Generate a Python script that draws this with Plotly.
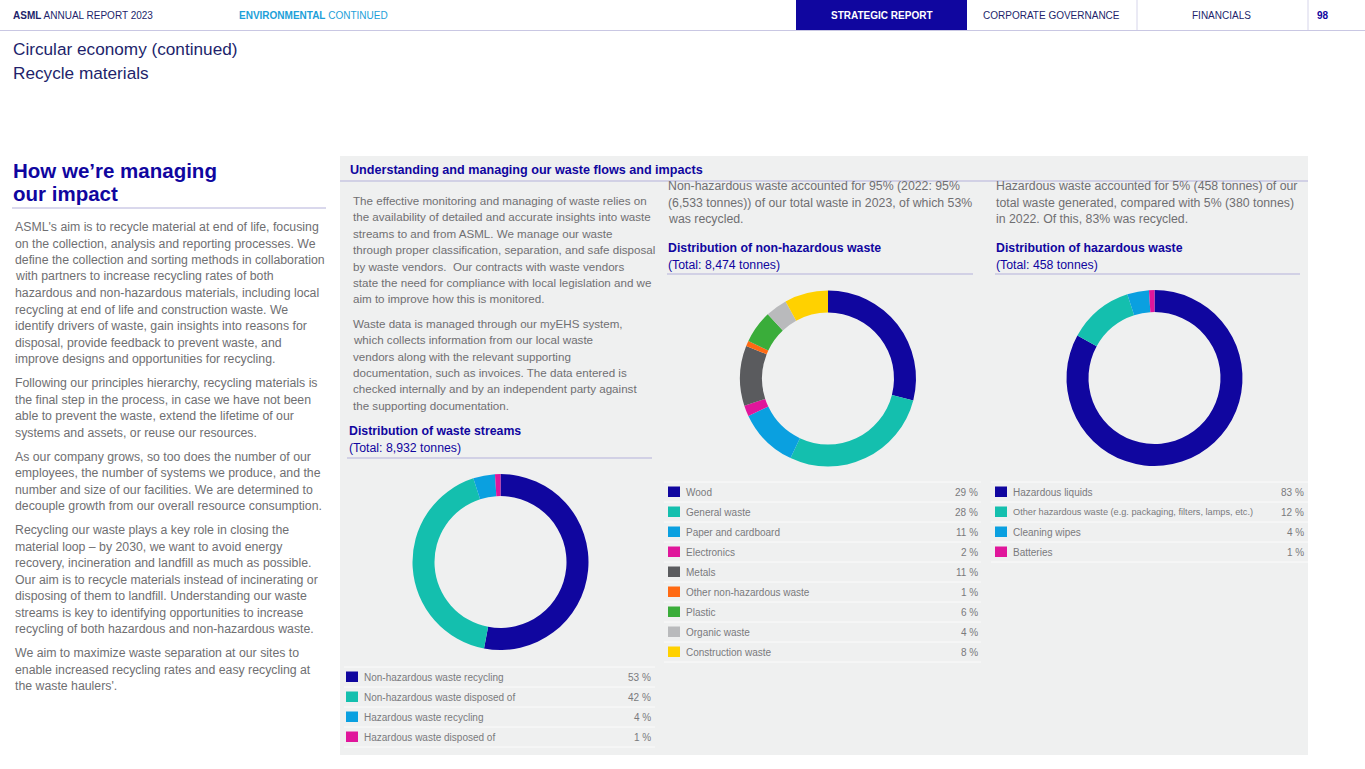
import plotly.graph_objects as go

W, H = 1365, 769

# ---------------- data ----------------
streams_labels = ["Non-hazardous waste recycling", "Non-hazardous waste disposed of",
                  "Hazardous waste recycling", "Hazardous waste disposed of"]
streams_values = [53, 42, 4, 1]
streams_colors = ["#10069f", "#14bfae", "#0aa0e0", "#e0169b"]

nonhaz_labels = ["Wood", "General waste", "Paper and cardboard", "Electronics", "Metals",
                 "Other non-hazardous waste", "Plastic", "Organic waste", "Construction waste"]
nonhaz_values = [29, 28, 11, 2, 11, 1, 6, 4, 8]
nonhaz_colors = ["#10069f", "#14bfae", "#0aa0e0", "#e0169b", "#5a5b5e",
                 "#ff6a13", "#3aad3a", "#b9babc", "#ffd100"]

haz_labels = ["Hazardous liquids", "Other hazardous waste (e.g. packaging, filters, lamps, etc.)",
              "Cleaning wipes", "Batteries"]
haz_values = [83, 12, 4, 1]
haz_colors = ["#10069f", "#14bfae", "#0aa0e0", "#e0169b"]

# ---------------- text ----------------
left_paras = [
    ["ASML's aim is to recycle material at end of life, focusing",
     "on the collection, analysis and reporting processes. We",
     "define the collection and sorting methods in collaboration",
     "with partners to increase recycling rates of both",
     "hazardous and non-hazardous materials, including local",
     "recycling at end of life and construction waste. We",
     "identify drivers of waste, gain insights into reasons for",
     "disposal, provide feedback to prevent waste, and",
     "improve designs and opportunities for recycling."],
    ["Following our principles hierarchy, recycling materials is",
     "the final step in the process, in case we have not been",
     "able to prevent the waste, extend the lifetime of our",
     "systems and assets, or reuse our resources."],
    ["As our company grows, so too does the number of our",
     "employees, the number of systems we produce, and the",
     "number and size of our facilities. We are determined to",
     "decouple growth from our overall resource consumption."],
    ["Recycling our waste plays a key role in closing the",
     "material loop – by 2030, we want to avoid energy",
     "recovery, incineration and landfill as much as possible.",
     "Our aim is to recycle materials instead of incinerating or",
     "disposing of them to landfill. Understanding our waste",
     "streams is key to identifying opportunities to increase",
     "recycling of both hazardous and non-hazardous waste."],
    ["We aim to maximize waste separation at our sites to",
     "enable increased recycling rates and easy recycling at",
     "the waste haulers'."],
]
col1_paras = [
    ["The effective monitoring and managing of waste relies on",
     "the availability of detailed and accurate insights into waste",
     "streams to and from ASML. We manage our waste",
     "through proper classification, separation, and safe disposal",
     "by waste vendors.  Our contracts with waste vendors",
     "state the need for compliance with local legislation and we",
     "aim to improve how this is monitored."],
    ["Waste data is managed through our myEHS system,",
     "which collects information from our local waste",
     "vendors along with the relevant supporting",
     "documentation, such as invoices. The data entered is",
     "checked internally and by an independent party against",
     "the supporting documentation."],
]
col2_paras = [["Non-hazardous waste accounted for 95% (2022: 95%",
               "(6,533 tonnes)) of our total waste in 2023, of which 53%",
               "was recycled."]]
col3_paras = [["Hazardous waste accounted for 5% (458 tonnes) of our",
               "total waste generated, compared with 5% (380 tonnes)",
               "in 2022. Of this, 83% was recycled."]]

FONT = "Liberation Sans"
NAVY = "#10069f"
DARKNAVY = "#221f6b"
GREY = "#6f6f72"
LAV = "#b4b1da"
PANEL = "#eff0f0"


def px(x):
    return x / W


def py(y):
    return 1 - y / H


fig = go.Figure()
shapes = []
annots = []


def text(x, y, s, size=12.3, color=GREY, anchor="left", family=FONT):
    annots.append(dict(x=px(x), y=py(y), xref="paper", yref="paper", text=s,
                       showarrow=False, xanchor=anchor, yanchor="middle",
                       font=dict(family=family, size=size, color=color),
                       borderpad=0))


def hline(x0, x1, y, color=LAV, width=1):
    shapes.append(dict(type="line", xref="paper", yref="paper", x0=px(x0), x1=px(x1),
                       y0=py(y), y1=py(y), line=dict(color=color, width=width)))


def rect(x0, y0, x1, y1, color):
    shapes.append(dict(type="rect", xref="paper", yref="paper", x0=px(x0), x1=px(x1),
                       y0=py(y0), y1=py(y1), fillcolor=color, line=dict(width=0),
                       layer="below"))


def paras(x, y0, ps, lh=16.5, gap=24, size=12.3):
    y = y0
    for p in ps:
        for i, ln in enumerate(p):
            text(x, y, ln, size=size)
            if i < len(p) - 1:
                y += lh
        y += gap
    return y


# ---------------- header ----------------
hline(0, W, 30.5, color="#c9c7e3")
rect(796, 0, 967, 30, NAVY)
for xs in (1137, 1308):
    shapes.append(dict(type="line", xref="paper", yref="paper", x0=px(xs), x1=px(xs),
                       y0=py(0), y1=py(30), line=dict(color="#d6d5ea", width=1)))
text(12, 16, "<b>ASML</b> ANNUAL REPORT 2023", size=10, color=DARKNAVY)
text(238, 16, "<b>ENVIRONMENTAL</b> CONTINUED", size=10, color="#1d9fd9")
text(881, 16, "<b>STRATEGIC REPORT</b>", size=10, color="white", anchor="center")
text(1051, 16, "CORPORATE GOVERNANCE", size=10, color=DARKNAVY, anchor="center")
text(1221, 16, "FINANCIALS", size=10, color=DARKNAVY, anchor="center")
text(1316, 16, "<b>98</b>", size=10, color=NAVY, anchor="left")

text(12, 49, "Circular economy (continued)", size=17.2, color=DARKNAVY)
text(12, 73, "Recycle materials", size=17.2, color=DARKNAVY)

# ---------------- left column ----------------
text(12, 170, "<b>How we’re managing</b>", size=20.5, color=NAVY)
text(12, 194, "<b>our impact</b>", size=20.5, color=NAVY)
hline(12, 326, 208)
paras(14, 227, left_paras)

# ---------------- panel ----------------
rect(340, 156, 1308, 755, PANEL)
text(349, 170, "<b>Understanding and managing our waste flows and impacts</b>", size=12.6, color=NAVY)
hline(340, 1308, 181)

paras(352, 200, col1_paras, size=11.6)
text(348, 431, "<b>Distribution of waste streams</b>", size=12.3, color=NAVY)
text(348, 448, "(Total: 8,932 tonnes)", size=12.3, color=NAVY)
hline(347, 652, 458)

paras(667, 186, col2_paras)
text(667, 248, "<b>Distribution of non-hazardous waste</b>", size=12.3, color=NAVY)
text(667, 265, "(Total: 8,474 tonnes)", size=12.3, color=NAVY)
hline(667, 973, 274)

paras(995, 186, col3_paras)
text(995, 248, "<b>Distribution of hazardous waste</b>", size=12.3, color=NAVY)
text(995, 265, "(Total: 458 tonnes)", size=12.3, color=NAVY)
hline(995, 1300, 274)


# ---------------- donuts ----------------
def donut(cx, cy, r, labels, values, colors):
    fig.add_trace(go.Pie(labels=labels, values=values, sort=False, direction="clockwise",
                         rotation=0, hole=0.75, textinfo="none", hoverinfo="label+percent",
                         marker=dict(colors=colors, line=dict(width=0)),
                         domain=dict(x=[px(cx - r), px(cx + r)], y=[py(cy + r), py(cy - r)]),
                         showlegend=False))


donut(500.5, 562, 88, streams_labels, streams_values, streams_colors)
donut(828, 378.5, 88, nonhaz_labels, nonhaz_values, nonhaz_colors)
donut(1154.5, 378, 88, haz_labels, haz_values, haz_colors)


# ---------------- legend tables ----------------
def table(x0, x1, sw_x, lab_x, val_x, y0, labels, values, colors):
    n = len(labels)
    for i in range(n + 1):
        hline(x0, x1, y0 - 10 + 20 * i, color="#fbfbfb", width=1)
    for i, (lab, v, c) in enumerate(zip(labels, values, colors)):
        yc = y0 + 20 * i
        shapes.append(dict(type="rect", xref="paper", yref="paper", x0=px(sw_x), x1=px(sw_x + 12),
                           y0=py(yc + 5), y1=py(yc - 5.5), fillcolor=c, line=dict(width=0)))
        size = 10 if len(lab) < 40 else 9.2
        text(lab_x, yc, lab, size=size, color="#7a7a7d")
        text(val_x, yc, f"{v} %", size=10, color="#7a7a7d", anchor="right")


table(344, 655, 346, 363, 652, 677, streams_labels, streams_values, streams_colors)
table(664, 981, 668, 685, 979, 492, nonhaz_labels, nonhaz_values, nonhaz_colors)
table(991, 1308, 995, 1012, 1305, 492, haz_labels, haz_values, haz_colors)

fig.update_layout(width=W, height=H, margin=dict(l=0, r=0, t=0, b=0, pad=0),
                  paper_bgcolor="white", plot_bgcolor="white",
                  shapes=shapes, annotations=annots, showlegend=False,
                  font=dict(family=FONT))

fig.write_html("out.html", config={"displayModeBar": False},
               post_script="document.body.style.margin='0';document.body.style.overflow='hidden';")
